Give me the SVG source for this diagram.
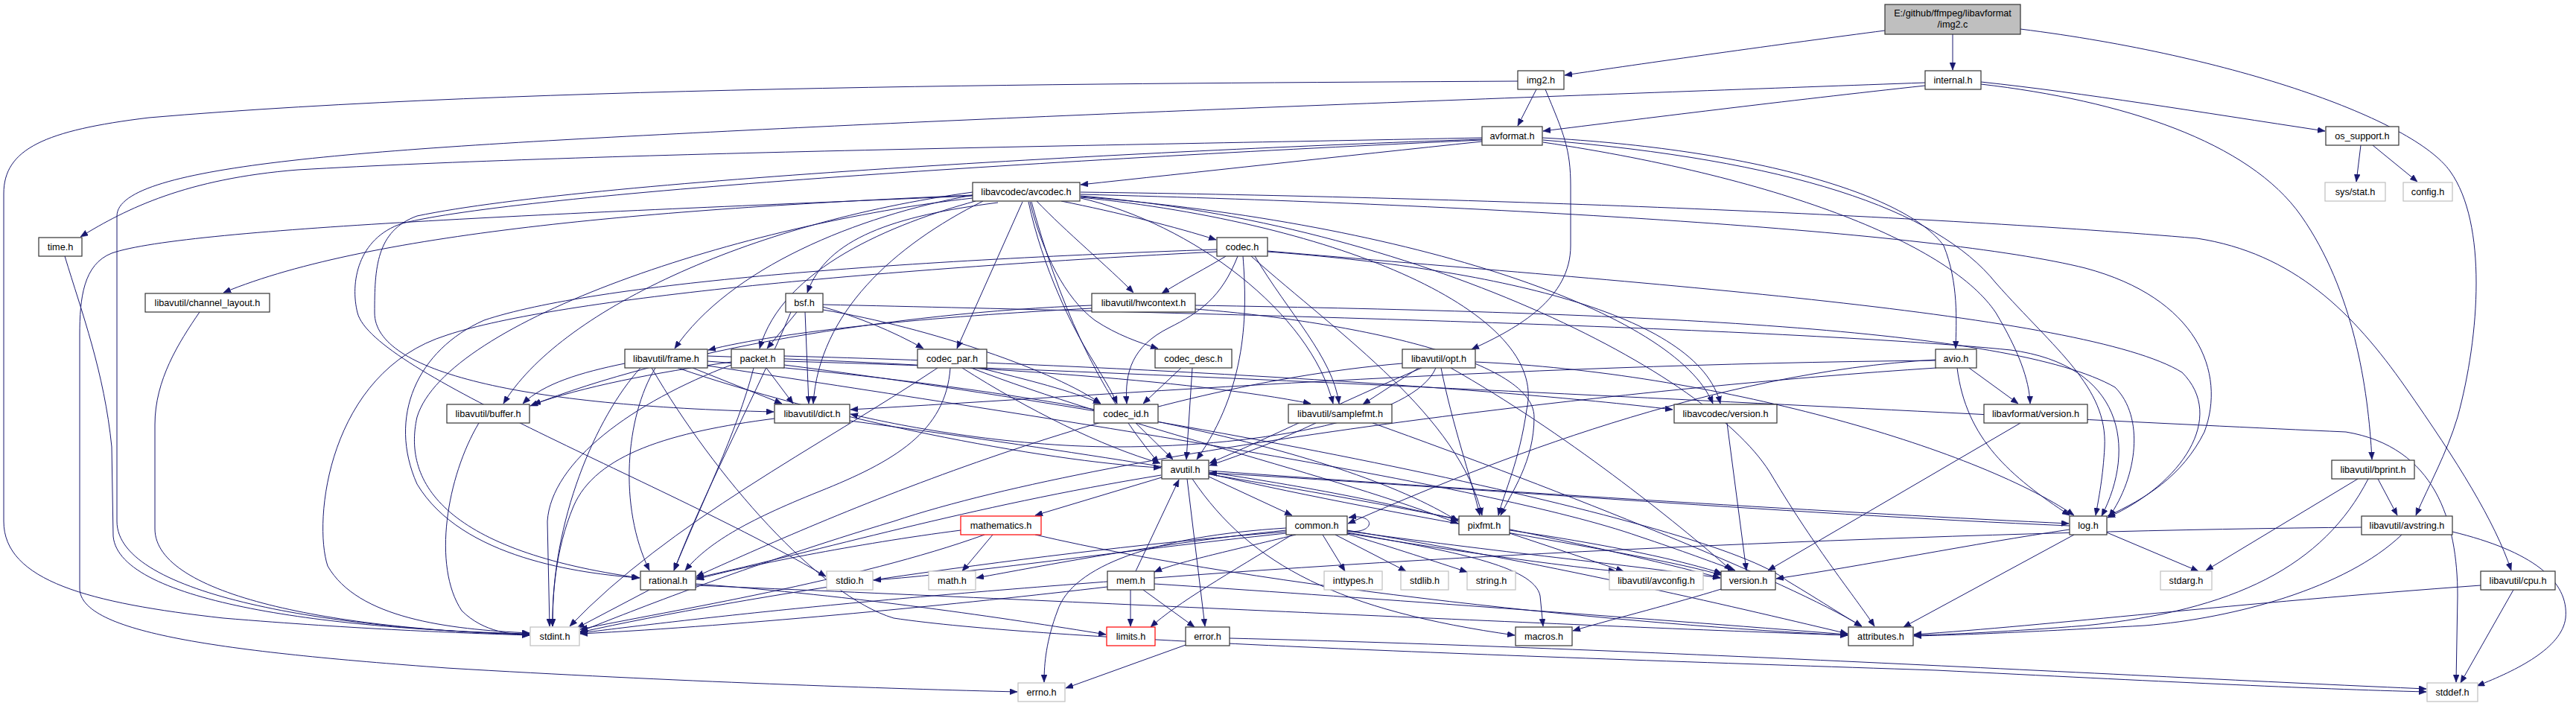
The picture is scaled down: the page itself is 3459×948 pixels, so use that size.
<svg xmlns="http://www.w3.org/2000/svg" width="3459" height="948" viewBox="0 0 3459 948">
<style>
.e path{fill:none;stroke:#191970;stroke-width:1;marker-end:url(#a)}
.n rect{fill:#fff;stroke:#333;stroke-width:1.2}
.n.g rect{stroke:#bfbfbf}
.n.r rect{stroke:#f00}
.n.root rect{fill:#bfbfbf}
.n text{font-family:"Liberation Sans",Arial,sans-serif;font-size:12.7px;text-anchor:middle;fill:#000}
</style>
<defs>
<marker id="a" viewBox="0 0 10 8" refX="10" refY="4" markerWidth="10" markerHeight="8" markerUnits="userSpaceOnUse" orient="auto"><path d="M0,0L10,4L0,8z" fill="#191970" stroke="#191970" stroke-width="0.5"/></marker>
</defs>
<rect width="3459" height="948" fill="#fff"/>
<g id="edges" class="e">
<path d="M2531,41 C2400,58 2200,86 2101,101"/>
<path d="M2622,46 L2622,94"/>
<path d="M2713,39 C3000,75 3240,160 3290,230 C3340,300 3330,450 3300,560 C3285,610 3262,650 3244,692"/>
<path d="M2038,109 C1500,112 700,115 200,158 C60,175 5,200 5,260 L5,700 C5,780 120,810 300,830 C480,845 620,850 711,853"/>
<path d="M2063,120 L2038,169"/>
<path d="M2075,120 C2100,180 2109,200 2109,250 L2109,330 C2109,400 2040,440 1976,469"/>
<path d="M2585,111 C2200,125 1500,150 1000,175 C500,200 157,220 157,290 L157,700 C157,800 450,845 711,852"/>
<path d="M2585,115 C2400,135 2200,160 2072,176"/>
<path d="M2660,110 C2800,125 2950,150 3122,176"/>
<path d="M2660,113 C2850,135 3020,190 3090,290 C3160,390 3180,520 3185,617"/>
<path d="M1990,185 C1500,195 800,205 400,228 C250,240 170,280 108,318"/>
<path d="M1990,188 C1400,215 700,260 540,300 C480,320 470,380 480,420 C500,500 900,650 1109,774"/>
<path d="M1990,190 C1800,210 1600,232 1451,248"/>
<path d="M1990,187 C1600,200 800,240 560,290 C505,310 503,360 503,420 C503,500 700,545 1039,553"/>
<path d="M2072,188 C2400,215 2600,280 2680,380 C2760,470 2830,520 2826,600 C2824,640 2818,670 2814,692"/>
<path d="M2071,185 C2350,200 2560,260 2610,330 C2630,380 2627,430 2626,468"/>
<path d="M2072,191 C2400,240 2620,330 2680,420 C2710,470 2725,510 2726,542"/>
<path d="M3170,195 L3164,244"/>
<path d="M3186,195 L3246,244"/>
<path d="M1425,270 C1500,285 1580,305 1633,322"/>
<path d="M1392,270 C1430,310 1490,360 1522,393"/>
<path d="M1373,271 L1285,468"/>
<path d="M1340,272 C1200,290 1110,320 1084,393"/>
<path d="M1383,271 C1400,340 1430,400 1470,430 C1500,450 1530,460 1555,468"/>
<path d="M1381,271 C1400,360 1440,440 1465,480 C1480,505 1493,525 1500,542"/>
<path d="M1306,262 C1150,290 980,360 906,468"/>
<path d="M1310,270 C1200,300 1050,360 1020,468"/>
<path d="M1306,258 C1000,300 750,420 676,542"/>
<path d="M1320,270 C1200,330 1100,420 1092,542"/>
<path d="M1306,262 C900,280 500,310 300,393"/>
<path d="M1306,263 C800,285 250,305 150,340 C112,355 107,400 107,450 L107,790 C107,850 300,875 600,897 C900,915 1200,925 1366,929"/>
<path d="M1306,266 C1000,300 600,430 560,560 C540,650 600,740 859,776"/>
<path d="M1451,266 C1600,300 1760,420 1790,542"/>
<path d="M1451,263 C1900,300 2300,500 2380,640 C2440,740 2490,800 2517,841"/>
<path d="M1385,271 C1420,400 1470,520 1556,622"/>
<path d="M1451,258 C2000,265 2600,290 2950,320 C3080,340 3160,420 3230,520 C3300,620 3350,700 3372,766"/>
<path d="M1451,261 C2000,275 2600,310 2800,360 C2950,400 2990,500 2960,580 C2930,640 2880,670 2830,693"/>
<path d="M1451,265 C1800,300 2080,420 2050,550 C2040,620 2020,660 2012,692"/>
<path d="M1451,264 C1900,300 2250,420 2300,542"/>
<path d="M87,344 C110,420 140,500 150,600 L152,720 C160,810 450,845 711,851"/>
<path d="M1646,344 C1620,360 1590,375 1560,394"/>
<path d="M1662,344 C1640,400 1610,420 1570,440 C1520,465 1510,500 1513,542"/>
<path d="M1669,344 C1675,420 1675,520 1607,617"/>
<path d="M1702,337 C2200,380 2800,420 2930,500 C2990,560 2930,650 2830,695"/>
<path d="M1680,344 C1800,450 1960,560 1990,692"/>
<path d="M1634,335 C1200,350 800,380 650,430 C560,470 520,560 560,650 C620,750 780,770 858,776"/>
<path d="M1634,338 C1200,360 750,400 600,450 C440,500 420,700 440,760 C480,830 600,845 711,850"/>
<path d="M1685,344 C1730,420 1790,480 1798,542"/>
<path d="M1702,338 C2000,360 2280,420 2310,542"/>
<path d="M268,419 C240,460 208,510 208,570 L208,710 C208,800 450,845 711,852"/>
<path d="M1081,419 L1086,542"/>
<path d="M1070,419 L1030,468"/>
<path d="M1105,412 C1150,425 1200,445 1240,468"/>
<path d="M1105,416 C1250,440 1420,500 1478,542"/>
<path d="M1105,409 C1600,420 2400,440 2700,470 C2850,490 2870,600 2822,693"/>
<path d="M1062,419 C1020,520 950,650 905,766"/>
<path d="M1466,410 C1200,420 900,470 712,545"/>
<path d="M1466,414 C1250,425 1050,445 951,470"/>
<path d="M1605,410 C2200,420 2700,440 2840,520 C2880,560 2870,640 2832,694"/>
<path d="M1605,415 C1800,430 2060,480 2060,560 C2060,620 2030,660 2015,692"/>
<path d="M875,494 C960,640 1100,800 1200,830 C1400,860 2000,880 2600,900 C2900,915 3100,925 3258,929"/>
<path d="M860,494 C800,560 740,700 742,841"/>
<path d="M880,494 C840,560 830,680 872,766"/>
<path d="M910,494 C1100,560 1400,620 1559,628"/>
<path d="M839,488 C780,500 730,515 702,542"/>
<path d="M930,494 L1050,542"/>
<path d="M950,478 C1300,490 1600,510 1760,542"/>
<path d="M950,485 C1400,520 1800,600 1958,700"/>
<path d="M950,491 C1400,560 2000,650 2200,720 C2260,740 2300,755 2330,766"/>
<path d="M1053,485 C1600,500 2700,560 3150,580 C3270,600 3300,700 3300,800 L3298,916"/>
<path d="M982,490 C850,540 740,620 735,700 L738,841"/>
<path d="M1053,490 C1600,560 2300,700 2400,780 C2450,810 2480,830 2500,841"/>
<path d="M982,486 C880,500 780,520 716,543"/>
<path d="M1029,494 L1065,542"/>
<path d="M1012,494 C990,580 940,680 905,766"/>
<path d="M1053,478 C1500,490 2000,520 2246,550"/>
<path d="M1259,494 C1100,600 900,700 765,841"/>
<path d="M1292,494 C1380,550 1480,600 1558,622"/>
<path d="M1276,494 C1270,580 1200,620 1100,660 C1000,700 950,730 920,766"/>
<path d="M1304,494 C1500,570 1800,640 1958,703"/>
<path d="M1315,494 C1380,510 1440,525 1478,542"/>
<path d="M1601,494 L1593,617"/>
<path d="M1586,494 L1535,542"/>
<path d="M1883,488 C1500,520 1100,700 935,774"/>
<path d="M1909,494 C1800,540 1700,590 1624,622"/>
<path d="M1928,494 C1900,560 1700,600 1500,600 C1350,600 1200,570 1142,556"/>
<path d="M1981,486 C2300,500 2650,600 2785,692"/>
<path d="M1935,494 C1950,570 1975,640 1987,692"/>
<path d="M1905,494 L1830,543"/>
<path d="M1948,494 C2100,580 2250,700 2325,766"/>
<path d="M2600,494 C2200,520 1500,600 1200,700 C1000,760 850,820 779,848"/>
<path d="M2600,483 C2300,500 2000,620 1810,703"/>
<path d="M2599,484 C2000,490 1500,530 1142,550"/>
<path d="M2628,494 C2640,590 2700,640 2779,692"/>
<path d="M2644,494 L2710,542"/>
<path d="M3166,643 L2962,766"/>
<path d="M3180,643 C3120,760 3000,820 2800,840 C2700,848 2620,852 2570,853"/>
<path d="M3193,643 L3219,692"/>
<path d="M643,568 C600,640 580,760 620,820 C650,850 690,852 711,853"/>
<path d="M1040,562 C900,580 800,610 770,680 C745,740 742,800 742,841"/>
<path d="M1141,565 C1700,640 2100,720 2310,776"/>
<path d="M1525,568 L1575,617"/>
<path d="M1767,568 C1720,590 1670,610 1624,625"/>
<path d="M1843,568 C2100,660 2400,780 2500,841"/>
<path d="M2319,568 L2345,766"/>
<path d="M2713,568 L2374,766"/>
<path d="M1623,640 L1735,692"/>
<path d="M1594,643 L1618,841"/>
<path d="M1559,638 C1300,680 1100,740 935,776"/>
<path d="M1623,636 C1900,700 2200,740 2311,772"/>
<path d="M1601,643 C1680,760 1800,820 2034,853"/>
<path d="M1560,641 L1390,692"/>
<path d="M1623,632 C2000,660 2500,690 2778,703"/>
<path d="M1623,634 C1800,660 1900,685 1958,698"/>
<path d="M1322,718 C1150,780 900,820 779,845"/>
<path d="M1333,718 L1292,767"/>
<path d="M1390,718 C1700,790 2200,840 2481,853"/>
<path d="M1290,712 C1150,730 1000,760 935,778"/>
<path d="M1727,709 C1550,720 1440,760 1420,820 C1405,860 1402,890 1402,916"/>
<path d="M1776,718 L1806,767"/>
<path d="M1735,718 C1650,770 1580,810 1545,842"/>
<path d="M1727,712 C1550,730 1400,760 1311,776"/>
<path d="M1727,714 C1400,740 1000,800 779,849"/>
<path d="M1727,716 C1500,740 1300,770 1173,779"/>
<path d="M1793,718 L1888,767"/>
<path d="M1809,717 C1870,735 1930,755 1970,768"/>
<path d="M1809,712 C2100,760 2350,820 2481,851"/>
<path d="M1809,715 C1950,740 2060,760 2068,800 L2072,841"/>
<path d="M1809,713 C2000,740 2200,760 2310,776"/>
<path d="M1809,716 C1950,740 2100,760 2170,767"/>
<path d="M1740,718 C1650,740 1580,755 1550,768"/>
<path d="M1809,713 C1848,718 1848,688 1811,695"/>
<path d="M2027,716 L2180,767"/>
<path d="M2027,712 C2150,730 2250,750 2312,770"/>
<path d="M2829,715 L2952,767"/>
<path d="M2785,718 L2556,842"/>
<path d="M2779,711 C2650,730 2500,760 2385,777"/>
<path d="M2779,706 C2400,690 1900,650 1624,635"/>
<path d="M3293,714 C3400,740 3450,780 3445,830 C3440,870 3380,900 3326,921"/>
<path d="M3171,708 C2700,712 2000,740 1500,780 C1100,810 900,835 779,850"/>
<path d="M3225,718 C3150,790 3000,830 2880,840 C2700,850 2620,853 2570,854"/>
<path d="M872,792 L775,843"/>
<path d="M934,784 C1150,800 1350,830 1485,852"/>
<path d="M934,786 C1500,810 2100,840 2481,853"/>
<path d="M1518,792 L1518,841"/>
<path d="M1487,788 C1300,810 1000,840 779,851"/>
<path d="M1550,784 C1800,800 2200,830 2481,852"/>
<path d="M1535,792 L1604,842"/>
<path d="M1525,767 L1583,644"/>
<path d="M2311,791 C2250,810 2170,830 2112,847"/>
<path d="M3375,792 L3304,917"/>
<path d="M3331,786 C3000,810 2750,840 2570,852"/>
<path d="M1592,866 L1431,924"/>
<path d="M1651,857 C2200,870 2900,910 3258,925"/>
</g>
<g id="n_img2c" class="n root"><rect x="2531" y="6" width="182" height="40"/><text x="2622" y="22">E:/github/ffmpeg/libavformat</text><text x="2622" y="37">/img2.c</text></g>
<g id="n_img2h" class="n"><rect x="2038" y="95" width="62" height="25"/><text x="2069" y="112">img2.h</text></g>
<g id="n_internal" class="n"><rect x="2585" y="95" width="75" height="25"/><text x="2622.5" y="112">internal.h</text></g>
<g id="n_avformat" class="n"><rect x="1990" y="170" width="81" height="25"/><text x="2030.5" y="187">avformat.h</text></g>
<g id="n_os_support" class="n"><rect x="3123" y="170" width="98" height="25"/><text x="3172" y="187">os_support.h</text></g>
<g id="n_avcodec" class="n"><rect x="1306" y="245" width="144" height="25"/><text x="1378" y="262">libavcodec/avcodec.h</text></g>
<g id="n_sysstat" class="n g"><rect x="3122" y="245" width="81" height="25"/><text x="3162.5" y="262">sys/stat.h</text></g>
<g id="n_config" class="n g"><rect x="3227" y="245" width="66" height="25"/><text x="3260" y="262">config.h</text></g>
<g id="n_time" class="n"><rect x="52" y="319" width="58" height="25"/><text x="81" y="336">time.h</text></g>
<g id="n_codec" class="n"><rect x="1634" y="319" width="68" height="25"/><text x="1668" y="336">codec.h</text></g>
<g id="n_chlayout" class="n"><rect x="195" y="394" width="167" height="25"/><text x="278.5" y="411">libavutil/channel_layout.h</text></g>
<g id="n_bsf" class="n"><rect x="1055" y="394" width="50" height="25"/><text x="1080" y="411">bsf.h</text></g>
<g id="n_hwcontext" class="n"><rect x="1466" y="394" width="139" height="25"/><text x="1535.5" y="411">libavutil/hwcontext.h</text></g>
<g id="n_frame" class="n"><rect x="839" y="469" width="111" height="25"/><text x="894.5" y="486">libavutil/frame.h</text></g>
<g id="n_packet" class="n"><rect x="982" y="469" width="71" height="25"/><text x="1017.5" y="486">packet.h</text></g>
<g id="n_codec_par" class="n"><rect x="1232" y="469" width="93" height="25"/><text x="1278.5" y="486">codec_par.h</text></g>
<g id="n_codec_desc" class="n"><rect x="1551" y="469" width="103" height="25"/><text x="1602.5" y="486">codec_desc.h</text></g>
<g id="n_opt" class="n"><rect x="1883" y="469" width="98" height="25"/><text x="1932" y="486">libavutil/opt.h</text></g>
<g id="n_avio" class="n"><rect x="2599" y="469" width="55" height="25"/><text x="2626.5" y="486">avio.h</text></g>
<g id="n_buffer" class="n"><rect x="600" y="543" width="111" height="25"/><text x="655.5" y="560">libavutil/buffer.h</text></g>
<g id="n_dict" class="n"><rect x="1040" y="543" width="101" height="25"/><text x="1090.5" y="560">libavutil/dict.h</text></g>
<g id="n_codec_id" class="n"><rect x="1469" y="543" width="86" height="25"/><text x="1512" y="560">codec_id.h</text></g>
<g id="n_samplefmt" class="n"><rect x="1730" y="543" width="139" height="25"/><text x="1799.5" y="560">libavutil/samplefmt.h</text></g>
<g id="n_lavc_version" class="n"><rect x="2248" y="543" width="138" height="25"/><text x="2317" y="560">libavcodec/version.h</text></g>
<g id="n_lavf_version" class="n"><rect x="2664" y="543" width="139" height="25"/><text x="2733.5" y="560">libavformat/version.h</text></g>
<g id="n_avutil" class="n"><rect x="1560" y="618" width="63" height="25"/><text x="1591.5" y="635">avutil.h</text></g>
<g id="n_bprint" class="n"><rect x="3131" y="618" width="111" height="25"/><text x="3186.5" y="635">libavutil/bprint.h</text></g>
<g id="n_mathematics" class="n r"><rect x="1290" y="693" width="108" height="25"/><text x="1344" y="710">mathematics.h</text></g>
<g id="n_common" class="n"><rect x="1727" y="693" width="82" height="25"/><text x="1768" y="710">common.h</text></g>
<g id="n_pixfmt" class="n"><rect x="1959" y="693" width="68" height="25"/><text x="1993" y="710">pixfmt.h</text></g>
<g id="n_log" class="n"><rect x="2779" y="693" width="50" height="25"/><text x="2804" y="710">log.h</text></g>
<g id="n_avstring" class="n"><rect x="3171" y="693" width="122" height="25"/><text x="3232" y="710">libavutil/avstring.h</text></g>
<g id="n_rational" class="n"><rect x="860" y="767" width="74" height="25"/><text x="897" y="784">rational.h</text></g>
<g id="n_stdio" class="n g"><rect x="1110" y="767" width="62" height="25"/><text x="1141" y="784">stdio.h</text></g>
<g id="n_math" class="n g"><rect x="1247" y="767" width="63" height="25"/><text x="1278.5" y="784">math.h</text></g>
<g id="n_mem" class="n"><rect x="1487" y="767" width="63" height="25"/><text x="1518.5" y="784">mem.h</text></g>
<g id="n_inttypes" class="n g"><rect x="1778" y="767" width="78" height="25"/><text x="1817" y="784">inttypes.h</text></g>
<g id="n_stdlib" class="n g"><rect x="1881" y="767" width="64" height="25"/><text x="1913" y="784">stdlib.h</text></g>
<g id="n_string" class="n g"><rect x="1970" y="767" width="65" height="25"/><text x="2002.5" y="784">string.h</text></g>
<g id="n_avconfig" class="n g"><rect x="2161" y="767" width="126" height="25"/><text x="2224" y="784">libavutil/avconfig.h</text></g>
<g id="n_version" class="n"><rect x="2311" y="767" width="73" height="25"/><text x="2347.5" y="784">version.h</text></g>
<g id="n_stdarg" class="n g"><rect x="2901" y="767" width="69" height="25"/><text x="2935.5" y="784">stdarg.h</text></g>
<g id="n_cpu" class="n"><rect x="3331" y="767" width="100" height="25"/><text x="3381" y="784">libavutil/cpu.h</text></g>
<g id="n_stdint" class="n g"><rect x="712" y="842" width="66" height="25"/><text x="745" y="859">stdint.h</text></g>
<g id="n_limits" class="n r"><rect x="1486" y="842" width="65" height="25"/><text x="1518.5" y="859">limits.h</text></g>
<g id="n_error" class="n"><rect x="1592" y="842" width="59" height="25"/><text x="1621.5" y="859">error.h</text></g>
<g id="n_macros" class="n"><rect x="2035" y="842" width="76" height="25"/><text x="2073" y="859">macros.h</text></g>
<g id="n_attributes" class="n"><rect x="2482" y="842" width="87" height="25"/><text x="2525.5" y="859">attributes.h</text></g>
<g id="n_errno" class="n g"><rect x="1367" y="917" width="63" height="25"/><text x="1398.5" y="934">errno.h</text></g>
<g id="n_stddef" class="n g"><rect x="3259" y="917" width="68" height="25"/><text x="3293" y="934">stddef.h</text></g>
</svg>
